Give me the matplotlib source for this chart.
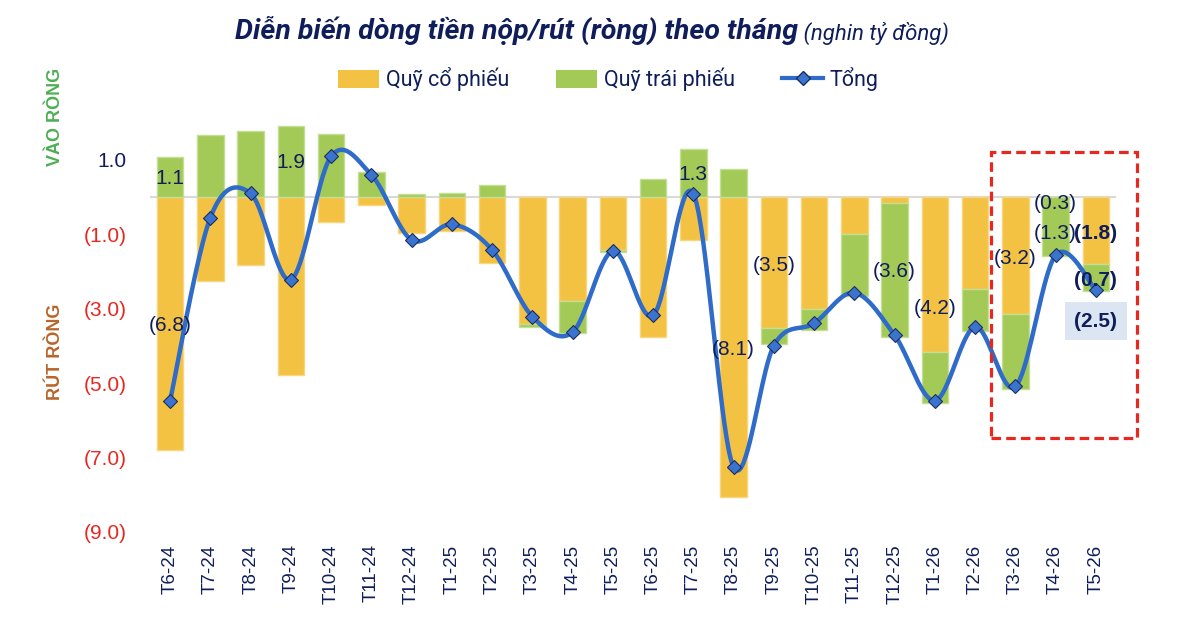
import numpy as np
import matplotlib
matplotlib.use("Agg")
import matplotlib.pyplot as plt
from matplotlib import font_manager
from matplotlib.patches import Patch, Rectangle
from matplotlib.lines import Line2D

# ---- data (nghin ty dong) ----
months = ["T6-24", "T7-24", "T8-24", "T9-24", "T10-24", "T11-24", "T12-24",
          "T1-25", "T2-25", "T3-25", "T4-25", "T5-25", "T6-25", "T7-25",
          "T8-25", "T9-25", "T10-25", "T11-25", "T12-25", "T1-26", "T2-26",
          "T3-26", "T4-26", "T5-26"]
stock_fund = [-6.80, -2.26, -1.83, -4.78, -0.67, -0.22, -0.96, -0.90, -1.77,
              -3.40, -2.80, -1.43, -3.75, -1.15, -8.06, -3.51, -3.02, -0.98,
              -0.15, -4.17, -2.46, -3.15, 0.00, -1.79]
bond_fund = [1.08, 1.68, 1.77, 1.91, 1.71, 0.67, 0.09, 0.12, 0.33, -0.09,
             -0.84, -0.04, 0.50, 1.29, 0.75, -0.44, -0.55, -1.69, -3.60,
             -1.37, -1.13, -2.02, -1.58, -0.73]
total = [-5.47, -0.55, 0.10, -2.22, 1.10, 0.60, -1.15, -0.73, -1.42, -3.21,
         -3.63, -1.45, -3.18, 0.09, -7.26, -3.99, -3.39, -2.57, -3.71, -5.47,
         -3.49, -5.09, -1.56, -2.50]

# data labels shown on the chart: (month index, y position, text, bold)
labels = [(0, 0.49, "1.1", False), (0, -3.44, "(6.8)", False),
          (3, 0.92, "1.9", False), (13, 0.60, "1.3", False),
          (14, -4.09, "(8.1)", False), (15, -1.83, "(3.5)", False),
          (18, -2.00, "(3.6)", False), (19, -3.00, "(4.2)", False),
          (21, -1.65, "(3.2)", False), (22, -0.16, "(0.3)", False),
          (22, -0.97, "(1.3)", False), (23, -0.97, "(1.8)", True),
          (23, -2.25, "(0.7)", True)]

yticks = [1, -1, -3, -5, -7, -9]

NAVY = "#0F1E5A"
RED = "#E8281F"
YELLOW = "#F4C242"
GREEN = "#A3C957"
BLUE = "#2F6BC9"

installed = {f.name for f in font_manager.fontManager.ttflist}
NARROW = "Liberation Sans Narrow" if "Liberation Sans Narrow" in installed else "Roboto"
ARIAL = "Liberation Sans"
plt.rcParams["font.family"] = [ARIAL, "DejaVu Sans"]


def smooth_line(xs, ys, n=40):
    """Catmull-Rom style bezier through the points (like Excel smoothed lines)."""
    p = np.column_stack([xs, ys]).astype(float)
    out = []
    for i in range(len(p) - 1):
        p0 = p[i - 1] if i > 0 else p[i]
        p1, p2 = p[i], p[i + 1]
        p3 = p[i + 2] if i + 2 < len(p) else p[i + 1]
        c1 = p1 + (p2 - p0) / 6
        c2 = p2 - (p3 - p1) / 6
        t = np.linspace(0, 1, n)[:, None]
        seg = ((1 - t) ** 3) * p1 + 3 * ((1 - t) ** 2) * t * c1 + 3 * (1 - t) * t ** 2 * c2 + t ** 3 * p2
        out.append(seg if i == 0 else seg[1:])
    out = np.vstack(out)
    return out[:, 0], out[:, 1]


fig = plt.figure(figsize=(12, 6.31), dpi=100)
ax = fig.add_axes([0.125, 0.157, 0.805, 0.7074])

x = np.arange(len(months))
stock = np.array(stock_fund)
bond = np.array(bond_fund)

# stacked bars, positives stack up and negatives stack down
pos_base = np.zeros(len(x))
neg_base = np.zeros(len(x))
for vals, color, edge in [(stock, YELLOW, "#F8D67E"), (bond, GREEN, "#C3DE95")]:
    bottoms = np.where(vals >= 0, pos_base, neg_base)
    ax.bar(x, vals, bottom=bottoms, width=0.66, color=color,
           edgecolor=edge, linewidth=1, zorder=2)
    pos_base = pos_base + np.where(vals >= 0, vals, 0)
    neg_base = neg_base + np.where(vals < 0, vals, 0)

ax.axhline(0, color="#D9D9D9", linewidth=1.5, zorder=1)

sx, sy = smooth_line(x, total)
ax.plot(sx, sy, color=BLUE, linewidth=3.2, zorder=3, solid_capstyle="round")
ax.plot(x, total, linestyle="none", marker="D", markersize=7,
        markerfacecolor="#3B74CF", markeredgecolor="#1C2E5E",
        markeredgewidth=0.8, zorder=4)

for i, y, txt, bold in labels:
    ax.text(i, y, txt, ha="center", va="center", fontsize=15, color=NAVY,
            fontweight="bold" if bold else "normal", zorder=5)

ax.text(23, -3.33, "(2.5)", ha="center", va="center", fontsize=15,
        color=NAVY, fontweight="bold", zorder=5,
        bbox=dict(boxstyle="square,pad=0.45", facecolor="#DCE6F2",
                  edgecolor="none"))

# highlight box around the latest months
ax.add_patch(Rectangle((20.4, -6.48), 3.63, 7.69, fill=False,
                       edgecolor=RED, linewidth=2.3, linestyle=(0, (3, 1.6)),
                       clip_on=False, zorder=6))

ax.set_xlim(-0.5, len(months) - 0.5)
ax.set_ylim(-9, 3)
ax.set_yticks(yticks)
ax.set_yticklabels([f"{v:.1f}" if v > 0 else f"({abs(v):.1f})" for v in yticks],
                   fontsize=15)
for lab, v in zip(ax.get_yticklabels(), yticks):
    lab.set_color(NAVY if v > 0 else RED)
ax.set_xticks(x)
ax.set_xticklabels(months, rotation=90, fontsize=13.5, color=NAVY)
ax.tick_params(axis="y", length=0, pad=17)
ax.tick_params(axis="x", length=0, pad=9)
for s in ax.spines.values():
    s.set_visible(False)

# side captions
fig.text(0.046, 1 - 117 / 631, "VÀO RÒNG", rotation=90, ha="center",
         va="center", fontsize=13, fontweight="bold", color="#4FAE55")
fig.text(0.046, 1 - 352 / 631, "RÚT RÒNG", rotation=90, ha="center",
         va="center", fontsize=13, fontweight="bold", color="#B8652A")

# title: bold italic part followed by a smaller unit note
t1 = fig.text(0.196, 1 - 30 / 631, "Diễn biến dòng tiền nộp/rút (ròng) theo tháng",
              ha="left", va="center", fontsize=20.5, fontweight="bold",
              fontstyle="italic", color=NAVY, family=[NARROW, "DejaVu Sans"])
ax.annotate(" (nghin tỷ đồng)", xy=(1, 0), xycoords=t1, va="bottom",
            ha="left", fontsize=16, fontstyle="italic", color=NAVY,
            family=[NARROW, "DejaVu Sans"], annotation_clip=False)

handles = [Patch(facecolor=YELLOW, edgecolor="none", label="Quỹ cổ phiếu"),
           Patch(facecolor=GREEN, edgecolor="none", label="Quỹ trái phiếu"),
           Line2D([], [], color=BLUE, linewidth=3, marker="D", markersize=7,
                  markerfacecolor="#3B74CF", markeredgecolor="#1C2E5E",
                  label="Tổng")]
leg = fig.legend(handles=handles, loc="center", bbox_to_anchor=(0.507, 1 - 79 / 631),
                 ncol=3, frameon=False, handlelength=1.9, handleheight=0.9,
                 handletextpad=0.3, columnspacing=2.2,
                 prop={"family": [NARROW, "DejaVu Sans"], "size": 15.5})
for t in leg.get_texts():
    t.set_color(NAVY)

fig.savefig("out.png", dpi=100)
